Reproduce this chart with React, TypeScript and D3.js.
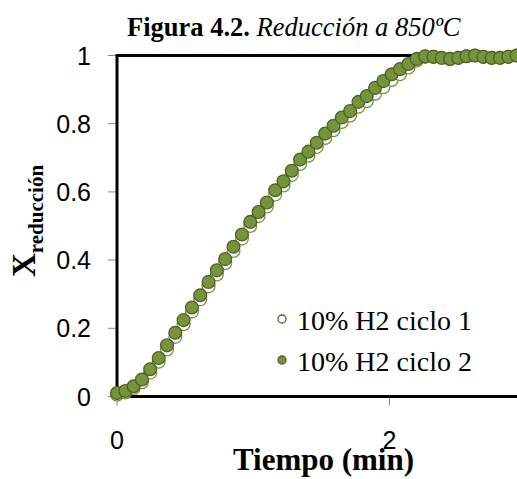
import React from "react";
import * as d3 from "d3";

const times = [0, 0.061, 0.122, 0.183, 0.244, 0.306, 0.367, 0.428, 0.489, 0.55, 0.611, 0.672, 0.733, 0.794, 0.855, 0.917, 0.978, 1.039, 1.1, 1.161, 1.222, 1.283, 1.344, 1.405, 1.466, 1.528, 1.589, 1.65, 1.711, 1.772, 1.833, 1.894, 1.955, 2.016, 2.077, 2.139, 2.2, 2.261, 2.322, 2.383, 2.444, 2.505, 2.566, 2.627, 2.688, 2.75, 2.811, 2.872, 2.933];

const ciclo1 = [0.005, 0.012, 0.025, 0.042, 0.07, 0.102, 0.138, 0.175, 0.212, 0.249, 0.285, 0.323, 0.358, 0.391, 0.427, 0.463, 0.5, 0.529, 0.557, 0.592, 0.619, 0.65, 0.682, 0.706, 0.732, 0.758, 0.781, 0.805, 0.824, 0.85, 0.866, 0.888, 0.907, 0.928, 0.945, 0.965, 0.985, 0.996, 0.996, 0.993, 0.99, 0.993, 0.998, 1.0, 0.996, 0.993, 0.993, 0.996, 1.0];

const ciclo2 = [0.01, 0.016, 0.03, 0.05, 0.08, 0.113, 0.15, 0.187, 0.224, 0.261, 0.297, 0.336, 0.37, 0.403, 0.439, 0.475, 0.512, 0.541, 0.569, 0.605, 0.631, 0.662, 0.695, 0.718, 0.744, 0.771, 0.794, 0.818, 0.837, 0.864, 0.881, 0.905, 0.925, 0.945, 0.96, 0.975, 0.99, 0.998, 0.996, 0.993, 0.99, 0.993, 0.998, 1.0, 0.996, 0.993, 0.993, 0.996, 1.0];

const yTicks = [0, 0.2, 0.4, 0.6, 0.8, 1];
const xTicks = [0, 2];
const seriesNames = ["10% H2 ciclo 1", "10% H2 ciclo 2"];

const GREEN = "#77933C";
const DARK = "#4F6228";

export default function App() {
  const x = d3.scaleLinear().domain([0, 3]).range([117, 117 + 3 * 136.25]);
  const y = d3.scaleLinear().domain([0, 1]).range([396.5, 55.5]);
  const x0 = x(0);
  const xEnd = x(3);
  const serif = "'Liberation Serif', 'Times New Roman', serif";
  const sans = "'Liberation Sans', Arial, sans-serif";
  const R = 6.4;

  return (
    <svg width={517} height={479} style={{ position: "fixed", left: 0, top: 0, background: "#fff" }}>
      <rect x={0} y={0} width={517} height={479} fill="#fff" />
      {/* title */}
      <text x={127} y={36} fontFamily={serif} fontSize={26.5} fill="#000">
        <tspan fontWeight="bold">Figura 4.2.</tspan>
        <tspan fontStyle="italic"> Reducción a 850ºC</tspan>
      </text>

      {/* y ticks */}
      {yTicks.map((t) => (
        <g key={"y" + t}>
          <line x1={108} x2={x0} y1={y(t)} y2={y(t)} stroke="#898989" strokeWidth={1} />
          <text x={91} y={y(t)} dy="0.36em" textAnchor="end" fontFamily={sans} fontSize={25} fill="#000">
            {String(t)}
          </text>
        </g>
      ))}
      {/* x ticks */}
      {xTicks.map((t) => (
        <g key={"x" + t}>
          <line x1={x(t)} x2={x(t)} y1={y(0)} y2={y(0) + 9} stroke="#898989" strokeWidth={1} />
          <text x={x(t)} y={449} textAnchor="middle" fontFamily={sans} fontSize={25} fill="#000">
            {String(t)}
          </text>
        </g>
      ))}

      {/* frame */}
      <line x1={x0} x2={xEnd} y1={y(1)} y2={y(1)} stroke="#000" strokeWidth={3} />
      <line x1={x0} x2={xEnd} y1={y(0)} y2={y(0)} stroke="#000" strokeWidth={3} />
      <line x1={x0} x2={x0} y1={y(1) - 1.5} y2={y(0) + 1.5} stroke="#000" strokeWidth={3} />

      {/* axis titles */}
      <text x={323.5} y={470} textAnchor="middle" fontFamily={serif} fontSize={31} fontWeight="bold" fill="#000">
        Tiempo (min)
      </text>
      <text transform="translate(35,277) rotate(-90)" fontFamily={serif} fontWeight="bold" fill="#000">
        <tspan fontSize={33}>X</tspan>
        <tspan fontSize={21} dy={8}>reducción</tspan>
      </text>

      {/* series 1: open */}
      {times.map((t, i) => (
        <circle key={"a" + i} cx={x(t)} cy={y(ciclo1[i])} r={R} fill="#fff" stroke={GREEN} strokeWidth={1.3} />
      ))}
      {/* series 2: filled */}
      {times.map((t, i) => (
        <circle key={"b" + i} cx={x(t)} cy={y(ciclo2[i])} r={R} fill={GREEN} stroke={DARK} strokeWidth={1.3} />
      ))}

      {/* legend */}
      <circle cx={282} cy={319} r={4} fill="#fff" stroke={DARK} strokeWidth={1.3} />
      <text x={297} y={330} fontFamily={serif} fontSize={28} fill="#000">{seriesNames[0]}</text>
      <circle cx={282} cy={360} r={4} fill={GREEN} stroke={DARK} strokeWidth={1.3} />
      <text x={297} y={371} fontFamily={serif} fontSize={28} fill="#000">{seriesNames[1]}</text>
    </svg>
  );
}
